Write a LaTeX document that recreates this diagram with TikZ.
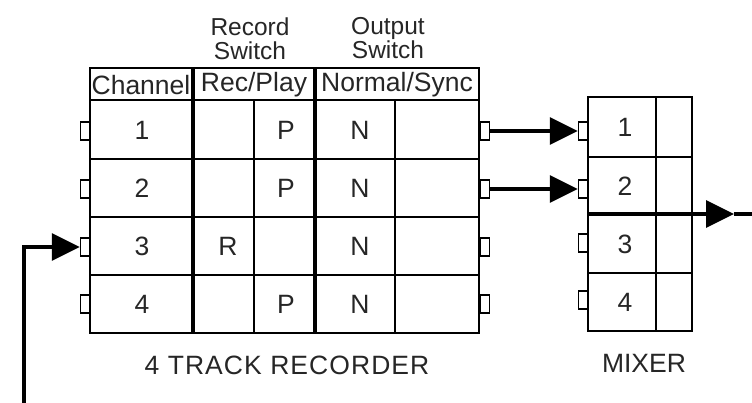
\documentclass[tikz,border=0pt]{standalone}
\usepackage{fontspec}
\setmainfont{Liberation Sans}
\usetikzlibrary{arrows.meta}

\begin{document}
\begin{tikzpicture}[x=1pt, y=-1pt,
    txt/.style={font=\fontsize{26.5}{23}\selectfont, text=black!85, inner sep=0pt, align=center},
    swtxt/.style={txt, font=\fontsize{24.5}{24}\selectfont},
    thin/.style={line width=2.2pt},
    thick/.style={line width=4pt},
    port/.style={draw, rectangle, fill=white, line width=1.4pt, minimum width=9pt, minimum height=18pt, inner sep=0pt},
    arrowline/.style={line width=3.2pt, -{Triangle[length=28pt, width=27pt]}}]
  \useasboundingbox (0, 0) rectangle (752, 403);

  % recorder
  \draw[thin] (90, 68) rectangle (479, 333);
  \foreach \y in {100, 159, 217, 275}
    \draw[thin] (90, \y) -- (479, \y);
  \foreach \x in {254, 395}
    \draw[thin] (\x, 100) -- (\x, 333);
  \foreach \x in {193, 315}
    \draw[thick] (\x, 68) -- (\x, 333);

  \node[swtxt] (recsw) at (250, 39) {Record\\Switch};
  \node[swtxt] (outsw) at (388, 38) {Output\\Switch};
  \node[txt] (hch) at (141, 85) {Channel};
  \node[txt] (hrec) at (254, 85) {Rec/Play};
  \node[txt] (hout) at (397, 85) {Normal/Sync};

  \foreach \i/\y in {1/130, 2/188, 3/246, 4/304} {
    \node[txt] (ch\i) at (142, \y) {\i};
    \node[txt] (nm\i) at (360, \y) {N};
  }
  \foreach \i/\y in {1/130, 2/188, 4/304}
    \node[txt] (pl\i) at (286, \y) {P};
  \node[txt] (rc3) at (228, 246) {R};

  \foreach \i/\y in {1/131, 2/189, 3/247, 4/304} {
    \node[port] (rp\i) at (85, \y) {};
    \node[port] (ro\i) at (485, \y) {};
  }
  \node[txt] (reclabel) at (287, 365) {\addfontfeature{LetterSpace=4}4 TRACK RECORDER};

  % mixer
  \draw[thin] (588, 97) rectangle (692, 331);
  \draw[thin] (656, 97) -- (656, 331);
  \foreach \y in {157, 273}
    \draw[thin] (588, \y) -- (692, \y);
  \foreach \i/\y in {1/127, 2/186, 3/244, 4/302}
    \node[txt] (mx\i) at (625, \y) {\i};
  \foreach \i/\y in {1/131, 2/189, 3/243, 4/300}
    \node[port] (mp\i) at (583, \y) {};
  \node[txt] (mixlabel) at (644, 363) {MIXER};

  % connections
  \draw[arrowline] (ro1.east) -- (mp1.west);
  \draw[arrowline] (ro2.east) -- (mp2.west);
  \coordinate (fbin) at (24, 403);
  \draw[arrowline] (fbin) |- (rp3.west);
  \coordinate (mixl) at (588, 214);
  \coordinate (mixtip) at (734, 214);
  \coordinate (mixout) at (752, 214);
  \draw[arrowline] (mixl) -- (mixtip);
  \draw[line width=3.2pt] (mixtip) -- (mixout);
\end{tikzpicture}
\end{document}
